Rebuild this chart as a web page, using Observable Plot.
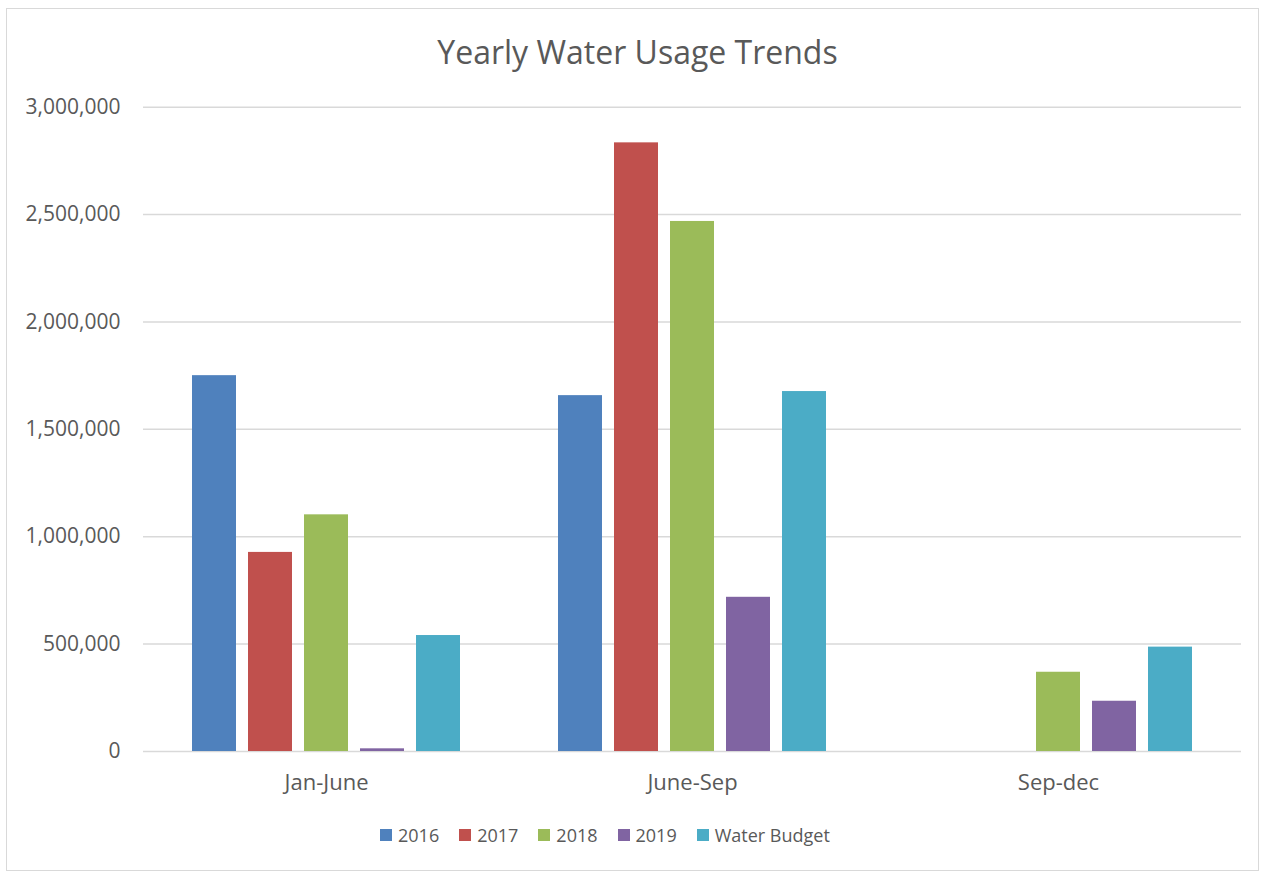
<!DOCTYPE html>
<html>
<head>
<meta charset="utf-8">
<script src="https://cdn.jsdelivr.net/npm/d3@7"></script>
<script src="https://cdn.jsdelivr.net/npm/@observablehq/plot@0.6"></script>
<style>
  html, body { margin: 0; padding: 0; background: #fff; }
  #chart { position: relative; width: 1268px; height: 877px; font-family: "Open Sans", sans-serif; color: #595959; overflow: hidden; }
  #frame { position: absolute; left: 6px; top: 8px; width: 1253px; height: 863px; border: 1.5px solid #d9d9d9; box-sizing: border-box; }
  #title { position: absolute; left: 0; top: 30px; width: 1275px; text-align: center; font-size: 32px; line-height: normal; color: #595959; }
  #plot { position: absolute; left: 0; top: 0; }
  #legend { position: absolute; left: 380px; top: 823px; display: flex; align-items: center; font-size: 18px; line-height: normal; }
  .item { display: flex; align-items: center; margin-right: 20px; }
  .sw { width: 12px; height: 12px; margin-right: 6px; }
</style>
</head>
<body>
<div id="chart">
  <div id="frame"></div>
  <div id="title">Yearly Water Usage Trends</div>
  <div id="plot"></div>
  <div id="legend"></div>
</div>
<script>
const categories = ["Jan-June", "June-Sep", "Sep-dec"];
const series = ["2016", "2017", "2018", "2019", "Water Budget"];
const colors = ["#4f81bd", "#c0504d", "#9bbb59", "#8064a2", "#4bacc6"];
const values2016 = [1750000, 1657000, 0];
const values2017 = [927000, 2834000, 0];
const values2018 = [1102000, 2468000, 369000];
const values2019 = [12500, 718000, 234000];
const valuesBudget = [540000, 1676000, 486000];
const yTicks = [0, 500000, 1000000, 1500000, 2000000, 2500000, 3000000];

const seriesValues = [values2016, values2017, values2018, values2019, valuesBudget];
const data = [];
categories.forEach((c, i) => {
  series.forEach((s, j) => {
    data.push({period: c, series: s, value: seriesValues[j][i]});
  });
});

const chart = Plot.plot({
  width: 1268,
  height: 800,
  marginLeft: 142,
  marginRight: 27,
  marginTop: 106.7,
  marginBottom: 49,
  style: {fontFamily: "'Open Sans', sans-serif", color: "#595959", background: "transparent"},
  fx: {domain: categories, padding: 0, label: null},
  x: {domain: series, paddingInner: 0.218, paddingOuter: 0.865, axis: null},
  y: {domain: [0, 3000000], label: null},
  color: {domain: series, range: colors},
  marks: [
    Plot.gridY(yTicks, {stroke: "#d9d9d9", strokeOpacity: 1, strokeWidth: 1.5}),
    Plot.barY(data, {fx: "period", x: "series", y: "value", fill: "series"}),
    Plot.axisY(yTicks, {tickSize: 0, tickPadding: 23, tickFormat: d3.format(","), fontSize: 21, label: null, fill: "#595959"}),
    Plot.axisFx({anchor: "bottom", tickSize: 0, tickPadding: 23, fontSize: 22, label: null, fill: "#595959"})
  ]
});
document.getElementById("plot").appendChild(chart);

const legend = document.getElementById("legend");
series.forEach((s, j) => {
  const item = document.createElement("div");
  item.className = "item";
  const sw = document.createElement("div");
  sw.className = "sw";
  sw.style.background = colors[j];
  const t = document.createElement("span");
  t.textContent = s;
  item.appendChild(sw);
  item.appendChild(t);
  legend.appendChild(item);
});
</script>
</body>
</html>
